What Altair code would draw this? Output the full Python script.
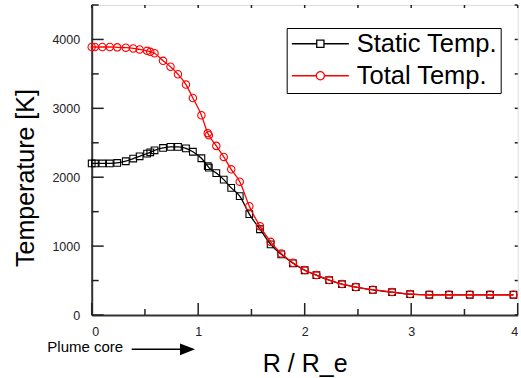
import altair as alt
import pandas as pd

# ---- data ----
r_over_re = [0.0, 0.03, 0.10, 0.17, 0.24, 0.32, 0.39, 0.45, 0.52, 0.55, 0.59, 0.67, 0.74,
             0.81, 0.885, 0.95, 1.03, 1.09, 1.10, 1.17, 1.24, 1.31, 1.39, 1.48, 1.58, 1.68,
             1.78, 1.89, 2.00, 2.11, 2.23, 2.35, 2.48, 2.64, 2.82, 2.99, 3.17, 3.355, 3.55,
             3.74, 3.96]
static_temp = [2200, 2200, 2200, 2200, 2207, 2232, 2271, 2304, 2343, 2362, 2391, 2425, 2440,
               2440, 2418, 2370, 2275, 2160, 2140, 2060, 1965, 1845, 1725, 1465, 1245, 1025,
               880, 750, 650, 578, 505, 447, 404, 365, 331, 302, 294, 294, 294, 294, 294]
total_temp = [3890, 3890, 3890, 3890, 3885, 3880, 3870, 3855, 3835, 3820, 3800, 3690, 3605,
              3495, 3345, 3150, 2900, 2640, 2610, 2455, 2295, 2115, 1935, 1580, 1290, 1062,
              894, 758, 652, 580, 507, 449, 406, 367, 333, 304, 294, 294, 294, 294, 294]
series_names = ["Static Temp.", "Total Temp."]
series_colors = ["black", "red"]
series_shapes = ["square", "circle"]
series_sizes = [45, 55]

x_major = [0, 1, 2, 3, 4]
x_minor = [0.5, 1.5, 2.5, 3.5]
y_major = [0, 1000, 2000, 3000, 4000]
y_minor = [500, 1500, 2500, 3500, 4500]

x_title = "R / R_e"
y_title = "Temperature [K]"
note_text = "Plume core"

FONT = "Liberation Sans"
W, H = 426, 310

df = pd.DataFrame({
    "r": r_over_re * 2,
    "T": static_temp + total_temp,
    "series": [series_names[0]] * len(r_over_re) + [series_names[1]] * len(r_over_re),
})

xs = alt.Scale(domain=[0, 4], nice=False, zero=False)
ys = alt.Scale(domain=[0, 4500], nice=False, zero=False)

x_axis = alt.Axis(values=x_major, format="d", ticks=False, tickSize=0, grid=False,
                  labelFont=FONT, labelFontSize=12.5, labelColor="#222", labelPadding=10,
                  labelBaseline="top", domainColor="#333", domainWidth=2,
                  title=x_title, titleFont=FONT, titleFontSize=25, titleFontWeight="normal",
                  titleColor="black", titleY=56.7, titleBaseline="alphabetic")
y_axis = alt.Axis(values=y_major, format="d", ticks=False, tickSize=0, grid=False,
                  labelFont=FONT, labelFontSize=12.5, labelColor="#222", labelPadding=12,
                  domainColor="#333", domainWidth=2,
                  title=y_title, titleFont=FONT, titleFontSize=25, titleFontWeight="normal",
                  titleColor="black", titleAngle=270, titleX=-57.7, titleY=172.5,
                  titleAlign="center", titleBaseline="alphabetic")

# legend symbols: a short line with the series marker in the middle (unit = 5 px)
sq_path = "M-5.7,0H-0.72M0.72,0H5.7M-0.72,-0.72H0.72V0.72H-0.72Z"
ci_path = ("M-5.7,0H-0.82M0.82,0H5.7M-0.82,0A0.82,0.82 0 1,0 0.82,0"
           "A0.82,0.82 0 1,0 -0.82,0Z")
symbol_expr = "datum.value === '%s' ? '%s' : '%s'" % (series_names[0], sq_path, ci_path)

color = alt.Color(
    "series:N",
    scale=alt.Scale(domain=series_names, range=series_colors),
    legend=alt.Legend(
        title=None, orient="none", legendX=195, legendY=23,
        strokeColor="black", fillColor="white", padding=3,
        labelFont=FONT, labelFontSize=25.5, labelColor="black",
        symbolSize=100, symbolOffset=17.9, labelOffset=23.6,
        rowPadding=5, symbolStrokeWidth=1.3,
        symbolFillColor="transparent",
        symbolType=alt.ExprRef(symbol_expr),
    ),
)

base = alt.Chart(df)
X = alt.X("r:Q", scale=xs, axis=x_axis)
Y = alt.Y("T:Q", scale=ys, axis=y_axis)

layers = []
for name, col, shp, sz in zip(series_names, series_colors, series_shapes, series_sizes):
    sub = base.transform_filter(alt.datum.series == name)
    layers.append(sub.mark_line(interpolate="monotone", strokeWidth=1.3).encode(x=X, y=Y, color=color))
    layers.append(sub.mark_point(filled=False, strokeWidth=1.1, opacity=1, shape=shp, size=sz,
                                 color=col).encode(x=X, y=Y))

tick_color = "#222"

def yticks(vals, x0, x1):
    return alt.Chart(pd.DataFrame({"v": vals})).mark_rule(color=tick_color, strokeWidth=1.5).encode(
        y=alt.Y("v:Q", scale=ys, axis=y_axis), x=alt.value(x0), x2=alt.value(x1))

def xticks(vals, y0, y1):
    return alt.Chart(pd.DataFrame({"v": vals})).mark_rule(color=tick_color, strokeWidth=1.5).encode(
        x=alt.X("v:Q", scale=xs, axis=x_axis), y=alt.value(y0), y2=alt.value(y1))

ticks = [
    yticks(y_major, 0, 12), yticks(y_minor, 0, 7),
    xticks(x_major, H, H - 12), xticks(x_minor, H, H - 6),
    yticks(y_major + y_minor, W, W - 3),
    xticks(x_major + x_minor, 0, 3),
]

one = alt.Data(values=[{}])
note = alt.Chart(one).mark_text(align="left", baseline="middle", font=FONT, fontSize=15,
                                color="black").encode(
    x=alt.value(-44.4), y=alt.value(H + 31.7), text=alt.value(note_text))
shaft = alt.Chart(one).mark_rule(color="black", strokeWidth=1.5).encode(
    x=alt.value(40), x2=alt.value(89), y=alt.value(H + 34.3))
head = alt.Chart(one).mark_point(shape="M-1,-0.78L1,0L-1,0.78Z", filled=True, color="black",
                                 size=225, opacity=1).encode(
    x=alt.value(95.8), y=alt.value(H + 34.3))

chart = alt.layer(*ticks, *layers, note, shaft, head).properties(
    width=W, height=H,
    autosize=alt.AutoSizeParams(type="none"),
    padding={"left": 91.7, "top": 5, "right": 521 - 91.7 - W, "bottom": 378 - 5 - H},
).configure_view(stroke="#333", strokeWidth=1.5).configure(background="white")

chart.save("out.html", embed_options={"renderer": "svg", "actions": False})
